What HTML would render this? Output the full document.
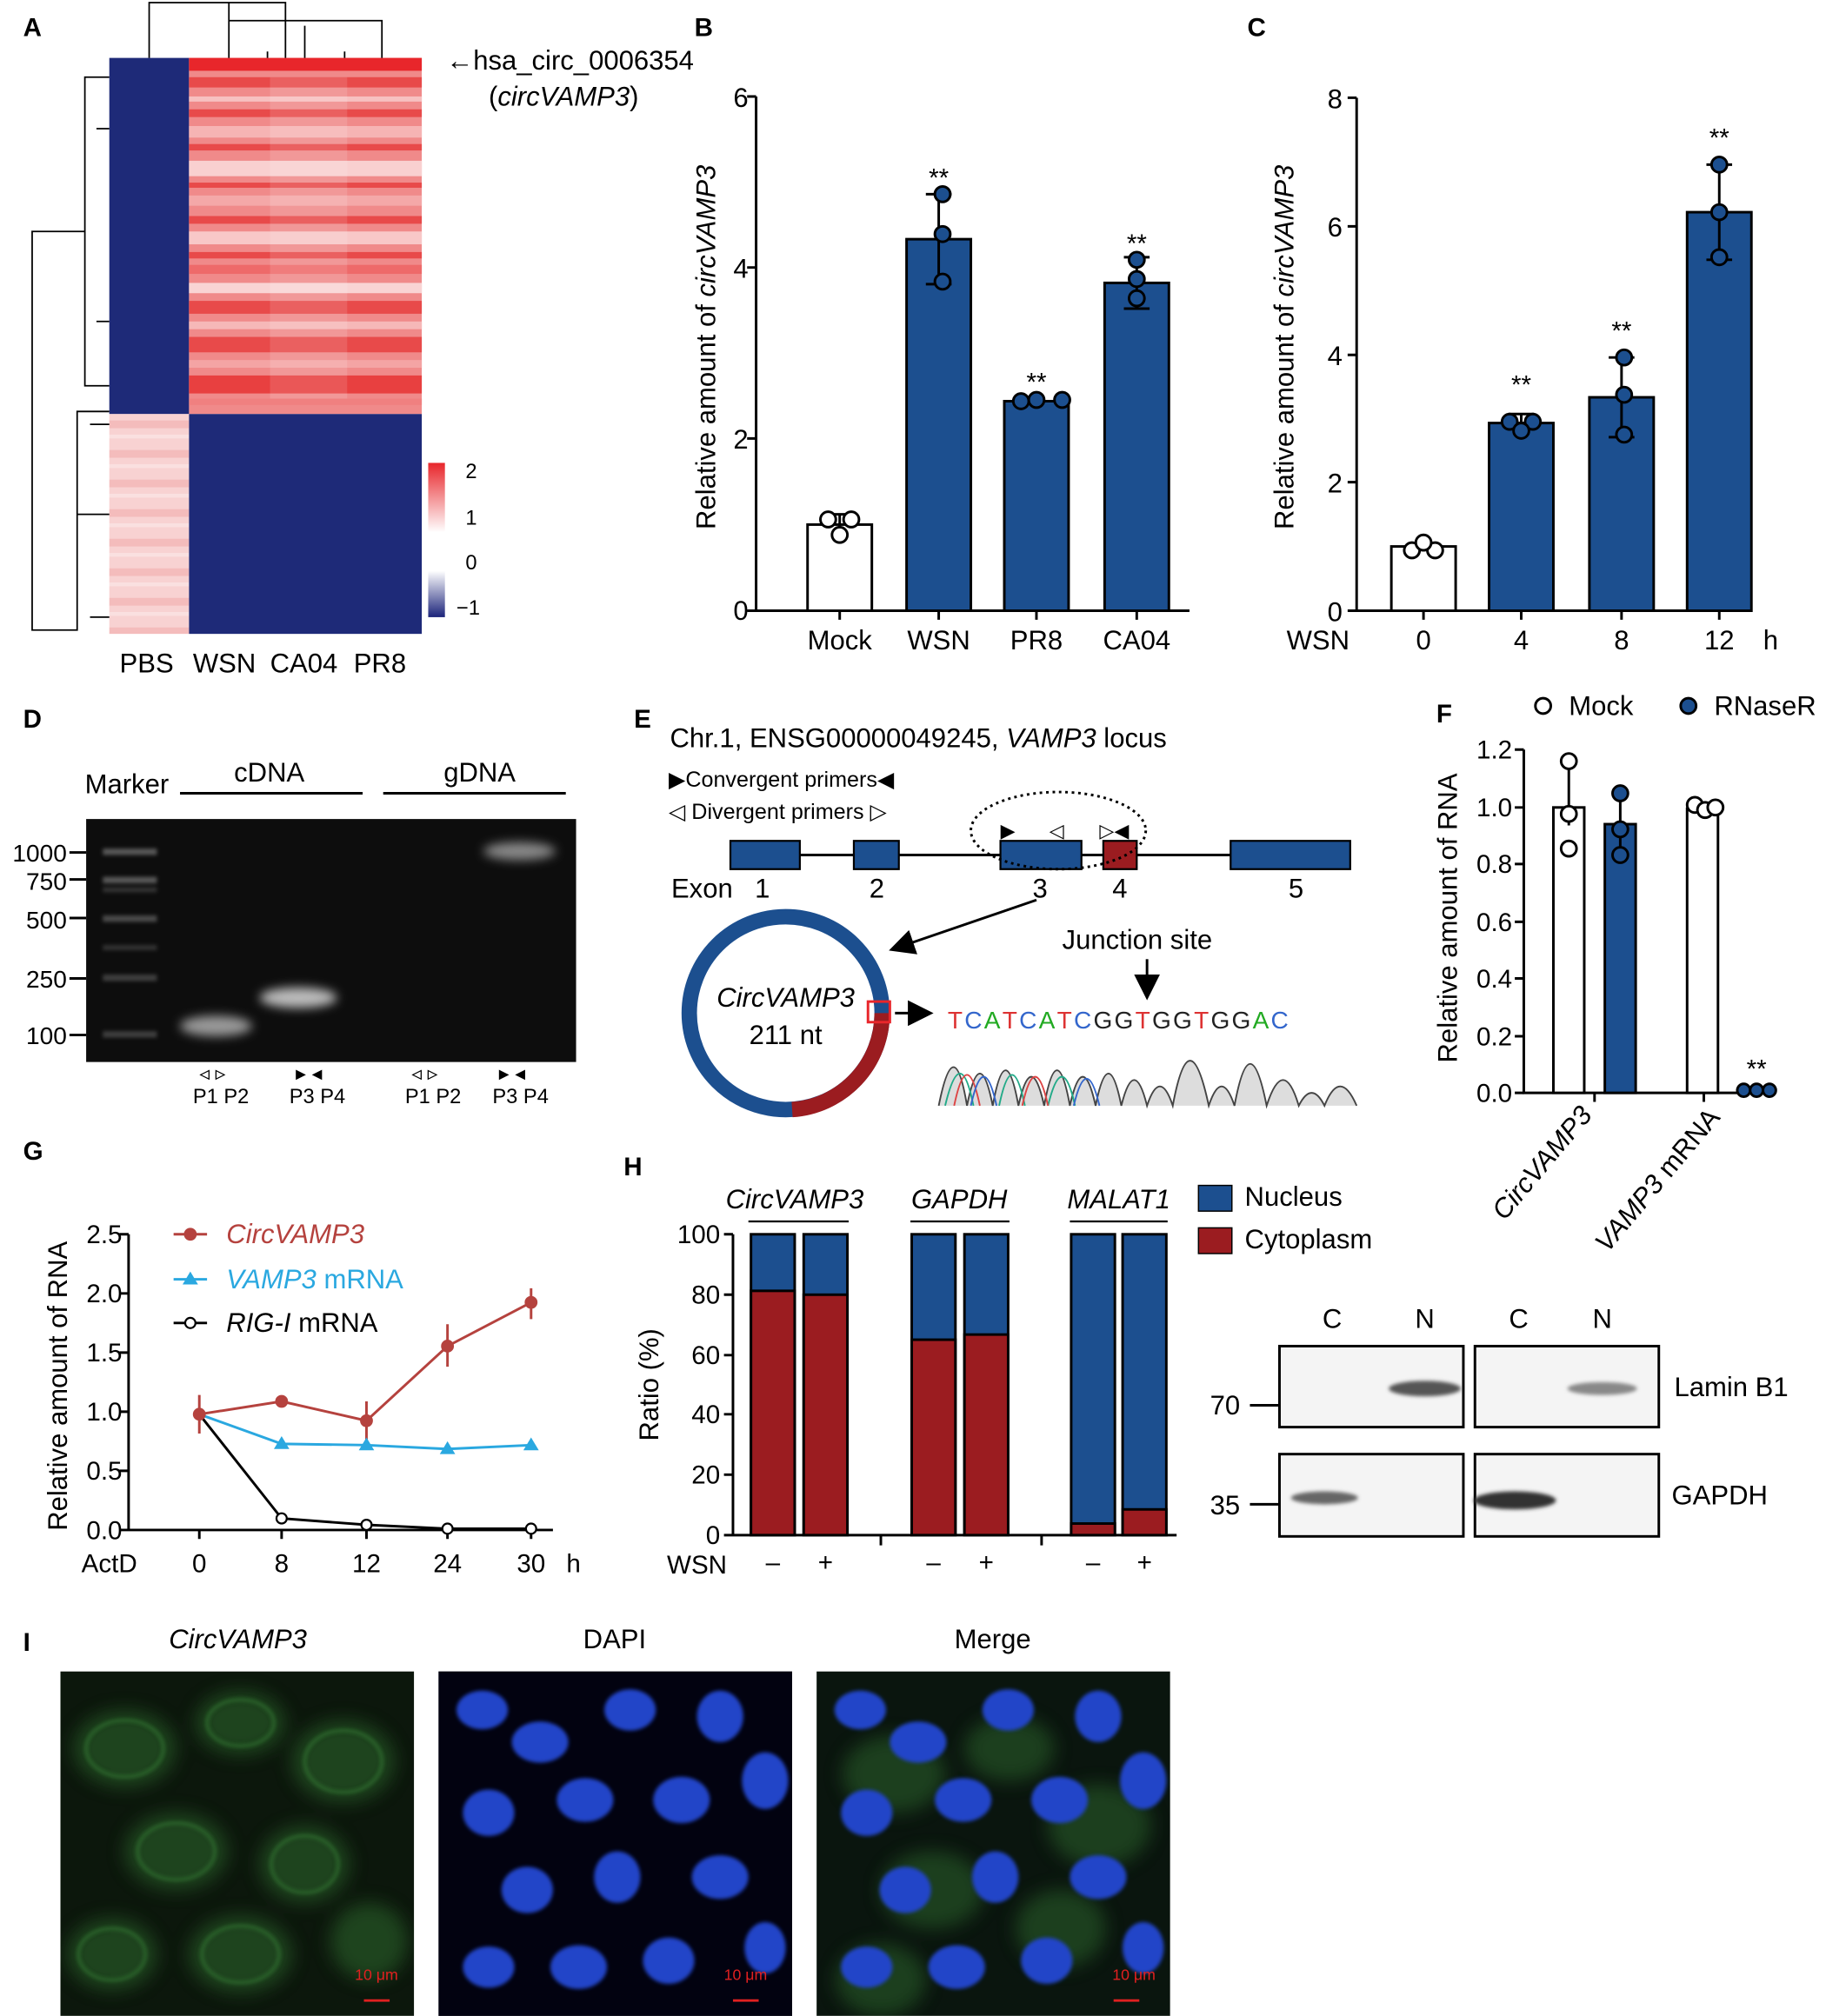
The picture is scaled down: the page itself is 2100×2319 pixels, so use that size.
<!DOCTYPE html>
<html><head><meta charset="utf-8"><style>html,body{margin:0;padding:0;background:#fff}svg{display:block}text{font-family:"Liberation Sans",Arial,sans-serif}</style></head><body>
<svg width="2100" height="2319" viewBox="0 0 1420 1568" xmlns="http://www.w3.org/2000/svg">
<defs>
<linearGradient id="cb" x1="0" y1="0" x2="0" y2="1"><stop offset="0" stop-color="#e8262b"/><stop offset="0.45" stop-color="#fff"/><stop offset="0.7" stop-color="#fff"/><stop offset="1" stop-color="#1b237a"/></linearGradient>
<pattern id="pinkstr" width="62" height="23" patternUnits="userSpaceOnUse"><rect width="62" height="23" fill="#f8d2d2"/><rect y="5" width="62" height="6" fill="#f4bcbc"/><rect y="16" width="62" height="3" fill="#fae0e0"/></pattern>
<filter id="bl" x="-20%" y="-50%" width="140%" height="200%"><feGaussianBlur stdDeviation="4"/></filter>
<filter id="bl2"><feGaussianBlur stdDeviation="1.5"/></filter>
<filter id="bl6" x="-30%" y="-30%" width="160%" height="160%"><feGaussianBlur stdDeviation="7"/></filter>
<marker id="ar" markerWidth="10" markerHeight="10" refX="8" refY="5" orient="auto"><path d="M0 0L10 5L0 10z" fill="#000"/></marker>
</defs>
<g font-size="20" font-weight="bold"><text x="18" y="28">A</text><text x="540" y="28">B</text><text x="970" y="28">C</text><text x="18" y="566">D</text><text x="493" y="566">E</text><text x="1117" y="562">F</text><text x="18" y="902">G</text><text x="485" y="914">H</text><text x="18" y="1284">I</text></g>
<!-- A heatmap -->
<rect x="85" y="45" width="62" height="277" fill="#1e2a78"/>
<rect x="85" y="322" width="62" height="171" fill="url(#pinkstr)"/>
<rect x="147" y="45" width="181" height="277" fill="#f08a8a"/>
<g fill="#e84a4a">
<rect x="147" y="45" width="181" height="10" fill="#e8262b"/>
<rect x="147" y="60" width="181" height="8"/><rect x="147" y="75" width="181" height="4" fill="#f7c0c0"/><rect x="147" y="85" width="181" height="6"/><rect x="147" y="98" width="181" height="9" fill="#f6b4b4"/><rect x="147" y="112" width="181" height="5"/><rect x="147" y="125" width="181" height="12" fill="#f9d0d0"/><rect x="147" y="142" width="181" height="4"/><rect x="147" y="152" width="181" height="8" fill="#f4a8a8"/><rect x="147" y="168" width="181" height="6"/><rect x="147" y="180" width="181" height="10" fill="#f8c8c8"/><rect x="147" y="196" width="181" height="5"/><rect x="147" y="206" width="181" height="7" fill="#ee6a6a"/><rect x="147" y="220" width="181" height="8" fill="#f9d4d4"/><rect x="147" y="234" width="181" height="10"/><rect x="147" y="250" width="181" height="6" fill="#f6b8b8"/><rect x="147" y="262" width="181" height="12"/><rect x="147" y="280" width="181" height="6" fill="#f4a4a4"/><rect x="147" y="292" width="181" height="14" fill="#e84040"/><rect x="147" y="310" width="181" height="5" fill="#f08080"/>
</g>
<rect x="210" y="60" width="60" height="250" fill="#fff" opacity=".12"/>
<rect x="147" y="322" width="181" height="171" fill="#1e2a78"/>
<g stroke="#000" stroke-width="1.2" fill="none">
<path d="M116 45V2H222V45M222 2V28M178 45V16H297V45M178 16V2M237 45V20M208 45V40M268 45V40"/>
<path d="M85 60H66V300H85M66 180H25V490H60V320H85M60 400H85M85 480H70M70 330H85M75 100H85M75 250H85"/>
</g>
<rect x="333" y="360" width="13" height="120" fill="url(#cb)"/>
<g font-size="16"><text x="362" y="372">2</text><text x="362" y="408">1</text><text x="362" y="443">0</text><text x="355" y="478">−1</text></g>
<text x="347" y="54" font-size="21">←hsa_circ_0006354</text><text x="380" y="82" font-size="21">(<tspan font-style="italic">circVAMP3</tspan>)</text>
<g font-size="21"><text x="93" y="523">PBS</text><text x="150" y="523">WSN</text><text x="210" y="523">CA04</text><text x="275" y="523">PR8</text></g>
<!-- B -->
<g stroke="#000" stroke-width="2" fill="none"><path d="M588 75V475H925M588 75h-7M588 208h-7M588 341h-7M588 475h-7M653 475v7M730 475v7M806 475v7M884 475v7"/></g>
<g font-size="21" text-anchor="end"><text x="582" y="83">6</text><text x="582" y="216">4</text><text x="582" y="349">2</text><text x="582" y="482">0</text></g>
<text transform="translate(556 270) rotate(-90)" font-size="21" text-anchor="middle">Relative amount of <tspan font-style="italic">circVAMP3</tspan></text>
<g stroke="#000" stroke-width="2"><rect x="628" y="408" width="50" height="67" fill="#fff"/><rect x="705" y="186" width="50" height="289" fill="#1c4f8f"/><rect x="781" y="312" width="50" height="163" fill="#1c4f8f"/><rect x="859" y="220" width="50" height="255" fill="#1c4f8f"/>
<path d="M653 400v16M643 400h20M730 151v70M720 151h20M720 221h20M806 309v6M884 200v40M874 200h20M874 240h20" fill="none"/></g>
<g stroke="#000" stroke-width="2" fill="#1c4f8f"><circle cx="644" cy="404" r="6" fill="#fff"/><circle cx="662" cy="404" r="6" fill="#fff"/><circle cx="653" cy="416" r="6" fill="#fff"/><circle cx="733" cy="151" r="6"/><circle cx="733" cy="182" r="6"/><circle cx="733" cy="219" r="6"/><circle cx="794" cy="312" r="6"/><circle cx="806" cy="311" r="6"/><circle cx="826" cy="311" r="6"/><circle cx="884" cy="202" r="6"/><circle cx="884" cy="217" r="6"/><circle cx="884" cy="232" r="6"/></g>
<g font-size="20" text-anchor="middle"><text x="730" y="145">**</text><text x="806" y="304">**</text><text x="884" y="196">**</text></g>
<g font-size="21" text-anchor="middle"><text x="653" y="505">Mock</text><text x="730" y="505">WSN</text><text x="806" y="505">PR8</text><text x="884" y="505">CA04</text></g>
<!-- C -->
<g stroke="#000" stroke-width="2" fill="none"><path d="M1055 76V475H1362M1055 76h-7M1055 176h-7M1055 276h-7M1055 375h-7M1055 475h-7M1107 475v7M1183 475v7M1261 475v7M1337 475v7"/></g>
<g font-size="21" text-anchor="end"><text x="1044" y="84">8</text><text x="1044" y="184">6</text><text x="1044" y="284">4</text><text x="1044" y="383">2</text><text x="1044" y="483">0</text></g>
<text transform="translate(1006 270) rotate(-90)" font-size="21" text-anchor="middle">Relative amount of <tspan font-style="italic">circVAMP3</tspan></text>
<g stroke="#000" stroke-width="2"><rect x="1082" y="425" width="50" height="50" fill="#fff"/><rect x="1158" y="329" width="50" height="146" fill="#1c4f8f"/><rect x="1236" y="309" width="50" height="166" fill="#1c4f8f"/><rect x="1312" y="165" width="50" height="310" fill="#1c4f8f"/>
<path d="M1183 322v14M1173 322h20M1261 278v62M1251 278h20M1251 340h20M1337 128v74M1327 128h20M1327 202h20" fill="none"/></g>
<g stroke="#000" stroke-width="2" fill="#1c4f8f"><circle cx="1098" cy="428" r="6" fill="#fff"/><circle cx="1116" cy="428" r="6" fill="#fff"/><circle cx="1107" cy="422" r="6" fill="#fff"/><circle cx="1174" cy="328" r="6"/><circle cx="1192" cy="328" r="6"/><circle cx="1183" cy="335" r="6"/><circle cx="1263" cy="278" r="6"/><circle cx="1263" cy="307" r="6"/><circle cx="1263" cy="338" r="6"/><circle cx="1337" cy="128" r="6"/><circle cx="1337" cy="165" r="6"/><circle cx="1337" cy="200" r="6"/></g>
<g font-size="20" text-anchor="middle"><text x="1183" y="306">**</text><text x="1261" y="264">**</text><text x="1337" y="114">**</text></g>
<g font-size="21" text-anchor="middle"><text x="1025" y="505">WSN</text><text x="1107" y="505">0</text><text x="1183" y="505">4</text><text x="1261" y="505">8</text><text x="1337" y="505">12</text><text x="1377" y="505">h</text></g>
<!-- D gel -->
<text x="66" y="617" font-size="21">Marker</text><text x="182" y="608" font-size="21">cDNA</text><text x="345" y="608" font-size="21">gDNA</text>
<path d="M140 617H282M298 617H440" stroke="#000" stroke-width="2"/>
<rect x="67" y="637" width="381" height="189" fill="#0d0d0d"/>
<g fill="#888" filter="url(#bl2)"><rect x="80" y="660" width="42" height="5" opacity=".6"/><rect x="80" y="682" width="42" height="5" opacity=".6"/><rect x="80" y="712" width="42" height="5" opacity=".5"/><rect x="80" y="758" width="42" height="5" opacity=".4"/><rect x="80" y="802" width="42" height="5" opacity=".4"/><rect x="80" y="690" width="42" height="4" opacity=".3"/><rect x="80" y="735" width="42" height="4" opacity=".3"/></g>
<g filter="url(#bl)"><ellipse cx="168" cy="798" rx="28" ry="8" fill="#999"/><ellipse cx="232" cy="776" rx="30" ry="8" fill="#bbb"/><ellipse cx="404" cy="662" rx="28" ry="7" fill="#888"/></g>
<g font-size="19" text-anchor="end"><text x="52" y="670">1000</text><text x="52" y="692">750</text><text x="52" y="722">500</text><text x="52" y="768">250</text><text x="52" y="812">100</text></g>
<path d="M54 663h13M54 684h13M54 714h13M54 761h13M54 805h13" stroke="#000" stroke-width="2"/>
<g font-size="16"><text x="150" y="858">P1 P2</text><text x="225" y="858">P3 P4</text><text x="315" y="858">P1 P2</text><text x="383" y="858">P3 P4</text><text x="155" y="840">◃ ▹</text><text x="230" y="840">▸ ◂</text><text x="320" y="840">◃ ▹</text><text x="388" y="840">▸ ◂</text></g>
<!-- E -->
<text x="521" y="581" font-size="21">Chr.1, ENSG00000049245, <tspan font-style="italic">VAMP3</tspan> locus</text>
<text x="520" y="612" font-size="17">▶Convergent primers◀</text><text x="520" y="637" font-size="17">◁  Divergent primers  ▷</text>
<path d="M568 665H1050" stroke="#000" stroke-width="2"/>
<g stroke="#000" stroke-width="1.5" fill="#1c4f8f"><rect x="568" y="654" width="54" height="22"/><rect x="664" y="654" width="35" height="22"/><rect x="778" y="654" width="63" height="22"/><rect x="858" y="654" width="26" height="22" fill="#9b1c20"/><rect x="957" y="654" width="93" height="22"/></g>
<ellipse cx="823" cy="646" rx="68" ry="30" fill="none" stroke="#000" stroke-width="2" stroke-dasharray="2 3"/>
<text x="778" y="651" font-size="15">▶</text><text x="816" y="651" font-size="15">◁</text><text x="855" y="651" font-size="15">▷◀</text>
<g font-size="21"><text x="522" y="698">Exon</text><text x="587" y="698">1</text><text x="676" y="698">2</text><text x="803" y="698">3</text><text x="865" y="698">4</text><text x="1002" y="698">5</text></g>
<circle cx="611" cy="788" r="75" fill="none" stroke="#1c4f8f" stroke-width="12"/>
<path d="M686 788 A75 75 0 0 1 616 863" fill="none" stroke="#9b1c20" stroke-width="12"/>
<rect x="675" y="779" width="17" height="16" fill="none" stroke="#e8262b" stroke-width="2"/>
<text x="611" y="783" font-size="21" text-anchor="middle" font-style="italic">CircVAMP3</text><text x="611" y="812" font-size="21" text-anchor="middle">211 nt</text>
<g stroke="#000" stroke-width="2" marker-end="url(#ar)"><path d="M806 700L695 738"/><path d="M696 788H722"/><path d="M892 746V774"/></g>
<text x="826" y="738" font-size="21">Junction site</text>
<text x="737" y="800" font-size="19" letter-spacing="1.5"><tspan fill="#d33">T</tspan><tspan fill="#36c">C</tspan><tspan fill="#2a2">A</tspan><tspan fill="#d33">T</tspan><tspan fill="#36c">C</tspan><tspan fill="#2a2">A</tspan><tspan fill="#d33">T</tspan><tspan fill="#36c">C</tspan><tspan fill="#222">GG</tspan><tspan fill="#d33">T</tspan><tspan fill="#222">GG</tspan><tspan fill="#d33">T</tspan><tspan fill="#222">GG</tspan><tspan fill="#2a2">A</tspan><tspan fill="#36c">C</tspan></text>
<path d="M730 860 Q742 800 752 860 Q762 810 772 860 Q782 805 792 860 Q802 815 812 860 Q822 805 832 860 Q842 815 852 860 Q862 810 872 860 Q882 820 892 860 Q902 830 912 860 Q925 790 940 860 Q950 830 960 860 Q972 795 985 860 Q998 820 1010 860 Q1020 840 1030 860 Q1042 830 1055 860" fill="#ddd" stroke="#444" stroke-width="1.3"/>
<path d="M735 860 Q747 810 757 860 M777 860 Q787 812 797 860 M815 860 Q826 815 836 860" fill="none" stroke="#2a8" stroke-width="1.3"/>
<path d="M742 860 Q752 812 762 860 M795 860 Q805 815 815 860" fill="none" stroke="#d44" stroke-width="1.3"/>
<path d="M755 860 Q765 815 775 860 M835 860 Q845 818 855 860" fill="none" stroke="#36c" stroke-width="1.3"/>
<!-- F -->
<circle cx="1200" cy="549" r="6" fill="#fff" stroke="#000" stroke-width="2"/><text x="1220" y="556" font-size="21">Mock</text>
<circle cx="1313" cy="549" r="6" fill="#1c4f8f" stroke="#000" stroke-width="2"/><text x="1333" y="556" font-size="21">RNaseR</text>
<g stroke="#000" stroke-width="2" fill="none"><path d="M1185 583V850H1370"/><path d="M1185 583h-7M1185 628h-7M1185 672h-7M1185 717h-7M1185 761h-7M1185 806h-7M1185 850h-7M1240 850v7M1325 850v7"/></g>
<g font-size="20" text-anchor="end"><text x="1176" y="590">1.2</text><text x="1176" y="635">1.0</text><text x="1176" y="679">0.8</text><text x="1176" y="724">0.6</text><text x="1176" y="768">0.4</text><text x="1176" y="813">0.2</text><text x="1176" y="857">0.0</text></g>
<text transform="translate(1133 714) rotate(-90)" font-size="21" text-anchor="middle">Relative amount of RNA</text>
<g stroke="#000" stroke-width="2"><rect x="1208" y="628" width="24" height="222" fill="#fff"/><rect x="1248" y="641" width="24" height="209" fill="#1c4f8f"/><rect x="1312" y="629" width="24" height="221" fill="#fff"/><rect x="1352" y="848" width="24" height="2" fill="#1c4f8f"/>
<path d="M1220 590v52M1260 617v52" fill="none"/></g>
<g stroke="#000" stroke-width="2" fill="#1c4f8f"><circle cx="1220" cy="592" r="6" fill="#fff"/><circle cx="1220" cy="633" r="6" fill="#fff"/><circle cx="1220" cy="660" r="6" fill="#fff"/><circle cx="1260" cy="617" r="6"/><circle cx="1260" cy="645" r="6"/><circle cx="1260" cy="665" r="6"/><circle cx="1318" cy="626" r="6" fill="#fff"/><circle cx="1326" cy="630" r="6" fill="#fff"/><circle cx="1334" cy="628" r="6" fill="#fff"/><circle cx="1356" cy="848" r="5"/><circle cx="1366" cy="848" r="5"/><circle cx="1376" cy="848" r="5"/></g>
<text x="1366" y="838" font-size="20" text-anchor="middle">**</text>
<text transform="translate(1170 950) rotate(-50)" font-size="21" font-style="italic">CircVAMP3</text>
<text transform="translate(1250 975) rotate(-50)" font-size="21"><tspan font-style="italic">VAMP3</tspan> mRNA</text>
<!-- G -->
<g stroke="#000" stroke-width="2" fill="none"><path d="M100 960V1190H430M100 960h-7M100 1006h-7M100 1052h-7M100 1098h-7M100 1144h-7M100 1190h-7M155 1190v7M219 1190v7M285 1190v7M348 1190v7M413 1190v7"/></g>
<g font-size="20" text-anchor="end"><text x="95" y="967">2.5</text><text x="95" y="1013">2.0</text><text x="95" y="1059">1.5</text><text x="95" y="1105">1.0</text><text x="95" y="1151">0.5</text><text x="95" y="1197">0.0</text></g>
<text transform="translate(52 1078) rotate(-90)" font-size="21" text-anchor="middle">Relative amount of RNA</text>
<g font-size="20" text-anchor="middle"><text x="85" y="1223">ActD</text><text x="155" y="1223">0</text><text x="219" y="1223">8</text><text x="285" y="1223">12</text><text x="348" y="1223">24</text><text x="413" y="1223">30</text><text x="446" y="1223">h</text></g>
<g stroke-width="2" fill="none"><path d="M155 1100L219 1090L285 1105L348 1047L413 1013" stroke="#b5423e"/><path d="M285 1090v30M348 1030v33M413 1002v24M155 1085v30" stroke="#b5423e"/><path d="M155 1100L219 1123L285 1124L348 1127L413 1124" stroke="#2aa8e0"/><path d="M155 1100L219 1181L285 1186L348 1189L413 1189" stroke="#000"/></g>
<g fill="#b5423e"><circle cx="155" cy="1100" r="5"/><circle cx="219" cy="1090" r="5"/><circle cx="285" cy="1105" r="5"/><circle cx="348" cy="1047" r="5"/><circle cx="413" cy="1013" r="5"/></g>
<g fill="#2aa8e0"><path d="M219 1117l6 10h-12zM285 1118l6 10h-12zM348 1121l6 10h-12zM413 1118l6 10h-12z"/></g>
<g fill="#fff" stroke="#000" stroke-width="1.5"><circle cx="219" cy="1181" r="4"/><circle cx="285" cy="1186" r="4"/><circle cx="348" cy="1189" r="4"/><circle cx="413" cy="1189" r="4"/></g>
<path d="M135 960h26" stroke="#b5423e" stroke-width="2"/><circle cx="148" cy="960" r="5" fill="#b5423e"/><text x="176" y="967" font-size="21" font-style="italic" fill="#b5423e">CircVAMP3</text>
<path d="M135 995h26" stroke="#2aa8e0" stroke-width="2"/><path d="M148 989l6 10h-12z" fill="#2aa8e0"/><text x="176" y="1002" font-size="21" fill="#2aa8e0"><tspan font-style="italic">VAMP3</tspan> mRNA</text>
<path d="M135 1029h26" stroke="#000" stroke-width="2"/><circle cx="148" cy="1029" r="4" fill="#fff" stroke="#000" stroke-width="1.5"/><text x="176" y="1036" font-size="21"><tspan font-style="italic">RIG-I</tspan> mRNA</text>
<!-- H -->
<g font-size="21" font-style="italic" text-anchor="middle"><text x="618" y="940">CircVAMP3</text><text x="746" y="940">GAPDH</text><text x="870" y="940">MALAT1</text></g>
<path d="M582 950H660M708 950H785M832 950H908" stroke="#000" stroke-width="1.5"/>
<g stroke="#000" stroke-width="2" fill="none"><path d="M570 960V1194H915M570 960h-7M570 1007h-7M570 1054h-7M570 1100h-7M570 1147h-7M570 1194h-7M685 1194v8M810 1194v8"/></g>
<g font-size="20" text-anchor="end"><text x="560" y="967">100</text><text x="560" y="1014">80</text><text x="560" y="1061">60</text><text x="560" y="1107">40</text><text x="560" y="1154">20</text><text x="560" y="1201">0</text></g>
<text transform="translate(512 1077) rotate(-90)" font-size="21" text-anchor="middle">Ratio (%)</text>
<g stroke="#000" stroke-width="2"><rect x="584" y="960" width="34" height="234" fill="#1c4f8f"/><rect x="584" y="1004" width="34" height="190" fill="#9b1c20"/><rect x="625" y="960" width="34" height="234" fill="#1c4f8f"/><rect x="625" y="1007" width="34" height="187" fill="#9b1c20"/><rect x="709" y="960" width="34" height="234" fill="#1c4f8f"/><rect x="709" y="1042" width="34" height="152" fill="#9b1c20"/><rect x="750" y="960" width="34" height="234" fill="#1c4f8f"/><rect x="750" y="1038" width="34" height="156" fill="#9b1c20"/><rect x="833" y="960" width="34" height="234" fill="#1c4f8f"/><rect x="833" y="1185" width="34" height="9" fill="#9b1c20"/><rect x="873" y="960" width="34" height="234" fill="#1c4f8f"/><rect x="873" y="1174" width="34" height="20" fill="#9b1c20"/></g>
<g font-size="20" text-anchor="middle"><text x="542" y="1224">WSN</text><text x="601" y="1222">–</text><text x="642" y="1222">+</text><text x="726" y="1222">–</text><text x="767" y="1222">+</text><text x="850" y="1222">–</text><text x="890" y="1222">+</text></g>
<rect x="932" y="922" width="26" height="20" fill="#1c4f8f" stroke="#000"/><text x="968" y="938" font-size="21">Nucleus</text>
<rect x="932" y="955" width="26" height="20" fill="#9b1c20" stroke="#000"/><text x="968" y="971" font-size="21">Cytoplasm</text>
<!-- Western -->
<g font-size="21" text-anchor="middle"><text x="1036" y="1033">C</text><text x="1108" y="1033">N</text><text x="1181" y="1033">C</text><text x="1246" y="1033">N</text></g>
<g fill="#f4f4f4" stroke="#000" stroke-width="2"><rect x="995" y="1047" width="143" height="63"/><rect x="1147" y="1047" width="143" height="63"/><rect x="995" y="1131" width="143" height="64"/><rect x="1147" y="1131" width="143" height="64"/></g>
<g filter="url(#bl2)"><ellipse cx="1108" cy="1080" rx="28" ry="6" fill="#555"/><ellipse cx="1246" cy="1080" rx="27" ry="5" fill="#888"/><ellipse cx="1030" cy="1165" rx="26" ry="5" fill="#666"/><ellipse cx="1178" cy="1167" rx="32" ry="7" fill="#333"/></g>
<text x="1302" y="1086" font-size="21">Lamin B1</text><text x="1300" y="1170" font-size="21">GAPDH</text>
<text x="941" y="1100" font-size="21">70</text><text x="941" y="1178" font-size="21">35</text>
<path d="M972 1093h23M972 1170h23" stroke="#000" stroke-width="2"/>
<!-- I -->
<g font-size="21" text-anchor="middle"><text x="185" y="1282" font-style="italic">CircVAMP3</text><text x="478" y="1282">DAPI</text><text x="772" y="1282">Merge</text></g>
<svg x="47" y="1300" width="275" height="268" overflow="hidden"><rect width="275" height="268" fill="#0c170c"/>
<g fill="#2f6a2f" opacity=".55" filter="url(#bl6)"><ellipse cx="50" cy="60" rx="40" ry="30"/><ellipse cx="140" cy="40" rx="35" ry="25"/><ellipse cx="220" cy="70" rx="40" ry="32"/><ellipse cx="90" cy="140" rx="40" ry="30"/><ellipse cx="190" cy="150" rx="35" ry="30"/><ellipse cx="40" cy="220" rx="35" ry="28"/><ellipse cx="140" cy="220" rx="40" ry="30"/><ellipse cx="240" cy="210" rx="30" ry="30"/></g>
<g fill="none" stroke="#3a8a3a" stroke-width="3" opacity=".45" filter="url(#bl2)"><ellipse cx="50" cy="60" rx="30" ry="22"/><ellipse cx="140" cy="40" rx="26" ry="18"/><ellipse cx="220" cy="70" rx="30" ry="24"/><ellipse cx="90" cy="140" rx="30" ry="22"/><ellipse cx="190" cy="150" rx="26" ry="22"/><ellipse cx="40" cy="220" rx="26" ry="20"/><ellipse cx="140" cy="220" rx="30" ry="22"/></g></svg>
<rect x="341" y="1300" width="275" height="268" fill="#020210"/>
<g fill="#2244c8" filter="url(#bl2)"><ellipse cx="375" cy="1330" rx="20" ry="15"/><ellipse cx="420" cy="1355" rx="22" ry="16"/><ellipse cx="490" cy="1330" rx="20" ry="16"/><ellipse cx="560" cy="1335" rx="18" ry="20"/><ellipse cx="595" cy="1385" rx="18" ry="22"/><ellipse cx="455" cy="1400" rx="22" ry="17"/><ellipse cx="530" cy="1400" rx="22" ry="18"/><ellipse cx="380" cy="1410" rx="20" ry="18"/><ellipse cx="410" cy="1470" rx="20" ry="18"/><ellipse cx="480" cy="1460" rx="18" ry="20"/><ellipse cx="560" cy="1460" rx="22" ry="17"/><ellipse cx="380" cy="1530" rx="20" ry="16"/><ellipse cx="450" cy="1530" rx="22" ry="17"/><ellipse cx="520" cy="1525" rx="20" ry="18"/><ellipse cx="595" cy="1515" rx="16" ry="20"/></g>
<svg x="635" y="1300" width="275" height="268" overflow="hidden"><rect width="275" height="268" fill="#0a150e"/>
<g fill="#2f6a2f" opacity=".5" filter="url(#bl6)"><ellipse cx="60" cy="80" rx="40" ry="30"/><ellipse cx="150" cy="60" rx="35" ry="25"/><ellipse cx="220" cy="120" rx="40" ry="32"/><ellipse cx="90" cy="170" rx="40" ry="30"/><ellipse cx="190" cy="200" rx="35" ry="30"/><ellipse cx="50" cy="240" rx="35" ry="28"/></g></svg>
<g fill="#2244c8" filter="url(#bl2)"><ellipse cx="669" cy="1330" rx="20" ry="15"/><ellipse cx="714" cy="1355" rx="22" ry="16"/><ellipse cx="784" cy="1330" rx="20" ry="16"/><ellipse cx="854" cy="1335" rx="18" ry="20"/><ellipse cx="889" cy="1385" rx="18" ry="22"/><ellipse cx="749" cy="1400" rx="22" ry="17"/><ellipse cx="824" cy="1400" rx="22" ry="18"/><ellipse cx="674" cy="1410" rx="20" ry="18"/><ellipse cx="704" cy="1470" rx="20" ry="18"/><ellipse cx="774" cy="1460" rx="18" ry="20"/><ellipse cx="854" cy="1460" rx="22" ry="17"/><ellipse cx="674" cy="1530" rx="20" ry="16"/><ellipse cx="744" cy="1530" rx="22" ry="17"/><ellipse cx="814" cy="1525" rx="20" ry="18"/><ellipse cx="889" cy="1515" rx="16" ry="20"/></g>
<g fill="#e02020" font-size="12"><text x="276" y="1540">10 μm</text><text x="563" y="1540">10 μm</text><text x="865" y="1540">10 μm</text></g>
<path d="M283 1556h20M570 1556h20M866 1556h20" stroke="#e02020" stroke-width="2"/>
</svg>
</body></html>
